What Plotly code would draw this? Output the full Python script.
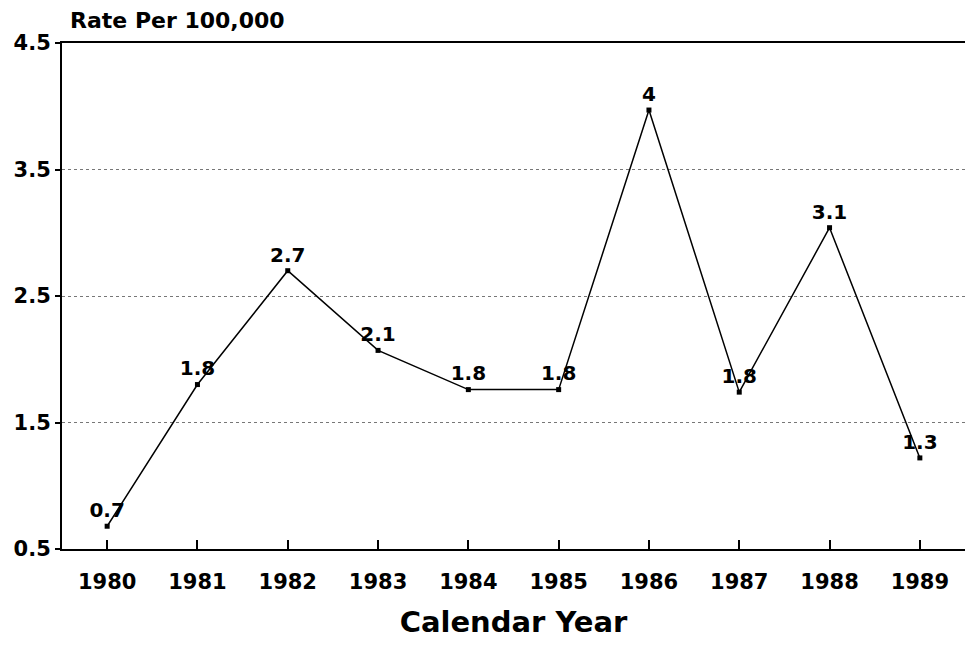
import plotly.graph_objects as go

years = [1980, 1981, 1982, 1983, 1984, 1985, 1986, 1987, 1988, 1989]
rates = [0.68, 1.8, 2.7, 2.07, 1.76, 1.76, 3.97, 1.74, 3.04, 1.22]
labels = ["0.7", "1.8", "2.7", "2.1", "1.8", "1.8", "4", "1.8", "3.1", "1.3"]
y_ticks = [0.5, 1.5, 2.5, 3.5, 4.5]

FONT = "DejaVu Sans, Liberation Sans, sans-serif"

fig = go.Figure(
    go.Scatter(
        x=years,
        y=rates,
        mode="lines+markers+text",
        text=labels,
        textposition="top center",
        textfont=dict(family=FONT, size=20, color="black", weight="bold"),
        line=dict(color="black", width=1.5),
        marker=dict(symbol="square", size=5, color="black"),
        cliponaxis=False,
        showlegend=False,
    )
)

fig.update_layout(
    width=966,
    height=645,
    paper_bgcolor="white",
    plot_bgcolor="white",
    margin=dict(l=62, r=1, t=43, b=96),
    font=dict(family=FONT, color="black"),
    annotations=[
        dict(
            text="<b>Rate Per 100,000</b>",
            xref="paper", yref="paper", x=0.0066, y=1.0,
            xanchor="left", yanchor="middle", yshift=23,
            showarrow=False, font=dict(size=22, color="black"),
        )
    ],
)

fig.update_xaxes(
    range=[1979.5, 1989.5],
    tickvals=years,
    ticktext=[str(y) for y in years],
    ticks="inside", ticklen=9, tickwidth=1.5, tickcolor="black",
    tickfont=dict(size=21, weight="bold"), ticklabelstandoff=13,
    showline=True, linecolor="black", linewidth=2, mirror=True,
    showgrid=False, zeroline=False, automargin=False,
    title=dict(text="Calendar Year", font=dict(size=29, weight="bold"), standoff=18),
)

fig.update_yaxes(
    range=[0.5, 4.5],
    tickvals=y_ticks,
    ticktext=[str(v) for v in y_ticks],
    ticks="outside", ticklen=5, tickwidth=1.5, tickcolor="black",
    tickfont=dict(size=21, weight="bold"),
    showline=True, linecolor="black", linewidth=2,
    showgrid=True, gridcolor="#777777", griddash="dot", gridwidth=1,
    zeroline=False, automargin=False,
)

# page has a default 8px body margin; drop it so the figure sits at 0,0
fig.write_html(
    "out.html",
    config={"displayModeBar": False},
    post_script="document.body.style.margin='0';",
)
